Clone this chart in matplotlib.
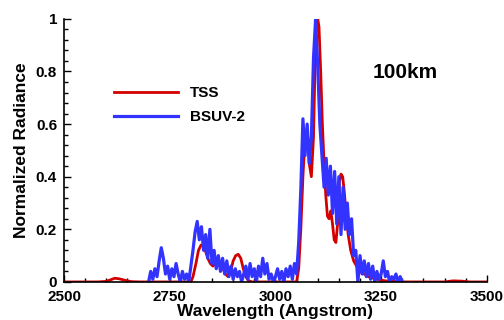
import matplotlib
matplotlib.use("Agg")
from matplotlib import pyplot as plt
from matplotlib.ticker import MultipleLocator, FormatStrFormatter

plt.rcParams['font.family'] = ['Liberation Sans', 'DejaVu Sans']
plt.rcParams['font.weight'] = 'bold'

# TSS model spectrum (red)
tss_wave = [2500, 2580, 2600, 2610, 2620, 2630, 2640, 2650, 2660, 2680, 2800,
            2805, 2812, 2818, 2824, 2828, 2834, 2840, 2846, 2852, 2858, 2864,
            2870, 2876, 2882, 2888, 2894, 2900, 2906, 2912, 2918, 2924, 2930,
            2936, 2945, 3050, 3055, 3060, 3065, 3070, 3075, 3080, 3085, 3090,
            3094, 3097, 3100, 3103, 3107, 3111, 3115, 3119, 3123, 3127, 3131,
            3135, 3139, 3143, 3147, 3151, 3155, 3159, 3163, 3167, 3172, 3178,
            3185, 3192, 3200, 3210, 3220, 3240, 3260, 3300, 3400, 3420, 3440,
            3460, 3500]
tss_rad = [0.0, 0.0, 0.002, 0.008, 0.014, 0.012, 0.008, 0.004, 0.001, 0.0, 0.0,
           0.02, 0.07, 0.12, 0.14, 0.14, 0.12, 0.09, 0.07, 0.06, 0.07, 0.08,
           0.07, 0.05, 0.03, 0.02, 0.04, 0.08, 0.10, 0.105, 0.09, 0.05, 0.02,
           0.005, 0.0, 0.0, 0.05, 0.20, 0.40, 0.55, 0.58, 0.45, 0.40, 0.55,
           0.85, 0.98, 1.00, 0.97, 0.80, 0.60, 0.45, 0.33, 0.25, 0.24, 0.27,
           0.22, 0.16, 0.15, 0.22, 0.38, 0.41, 0.40, 0.34, 0.26, 0.18, 0.12,
           0.08, 0.06, 0.04, 0.03, 0.02, 0.01, 0.004, 0.0, 0.0, 0.004, 0.003,
           0.0, 0.0]

# BSUV-2 measurement (blue)
bsuv_wave = list(range(2700, 3301, 5))
bsuv_rad = [0.00, 0.04, 0.01, 0.05, 0.02, 0.08, 0.13, 0.09, 0.03, 0.06,
            0.01, 0.05, 0.02, 0.07, 0.03, 0.00, 0.04, 0.01, 0.03, 0.00,
            0.06, 0.12, 0.19, 0.23, 0.16, 0.21, 0.12, 0.18, 0.09, 0.20,
            0.07, 0.12, 0.05, 0.10, 0.04, 0.09, 0.03, 0.08, 0.02, 0.06,
            0.01, 0.05, 0.02, 0.04, 0.00, 0.03, 0.06, 0.01, 0.07, 0.02,
            0.05, 0.00, 0.06, 0.02, 0.09, 0.03, 0.07, 0.01, 0.03, 0.00,
            0.02, 0.05, 0.01, 0.04, 0.00, 0.05, 0.02, 0.06, 0.01, 0.07,
            0.03, 0.15, 0.35, 0.62, 0.48, 0.60, 0.45, 0.55, 0.85, 1.00,
            0.82, 0.60, 0.48, 0.36, 0.47, 0.33, 0.44, 0.26, 0.42, 0.22,
            0.40, 0.18, 0.36, 0.20, 0.30, 0.18, 0.24, 0.10, 0.12, 0.00,
            0.10, 0.03, 0.08, 0.02, 0.07, 0.01, 0.06, 0.00, 0.04, 0.01,
            0.03, 0.08, 0.02, 0.04, 0.00, 0.02, 0.01, 0.03, 0.00, 0.02,
            0.00]

fig = plt.figure(figsize=(5.04, 3.2), dpi=100)
ax = fig.add_axes([0.127, 0.119, 0.839, 0.822])

ax.plot(tss_wave, tss_rad, color='#d40000', lw=2, label='TSS')
ax.plot(bsuv_wave, bsuv_rad, color='#3333ff', lw=2.3, label='BSUV-2')

ax.set_xlim(2500, 3500)
ax.set_ylim(0, 1)
ax.xaxis.set_major_locator(MultipleLocator(250))
ax.xaxis.set_minor_locator(MultipleLocator(50))
ax.yaxis.set_major_locator(MultipleLocator(0.2))
ax.yaxis.set_minor_locator(MultipleLocator(0.04))
ax.yaxis.set_major_formatter(FormatStrFormatter('%g'))
ax.tick_params(which='both', direction='in', labelsize=11, width=1)
ax.tick_params(which='major', length=5)
ax.tick_params(which='minor', length=3)
ax.tick_params(axis='x', pad=6)
ax.tick_params(axis='y', pad=5)
ax.spines['top'].set_visible(False)
ax.spines['right'].set_visible(False)
ax.spines['left'].set_linewidth(1.2)
ax.spines['bottom'].set_linewidth(1.2)

ax.set_xlabel('Wavelength (Angstrom)', fontsize=12.5, fontweight='bold', labelpad=0)
ax.set_ylabel('Normalized Radiance', fontsize=12.5, fontweight='bold', labelpad=5)

ax.text(3230, 0.795, '100km', fontsize=15, fontweight='bold', va='center')

ax.legend(loc='upper left', bbox_to_anchor=(0.099, 0.772), frameon=False,
          borderpad=0, handlelength=4.2, handletextpad=0.8, labelspacing=0.65,
          prop={'size': 11, 'weight': 'bold'})

fig.savefig('out.png', dpi=100)
